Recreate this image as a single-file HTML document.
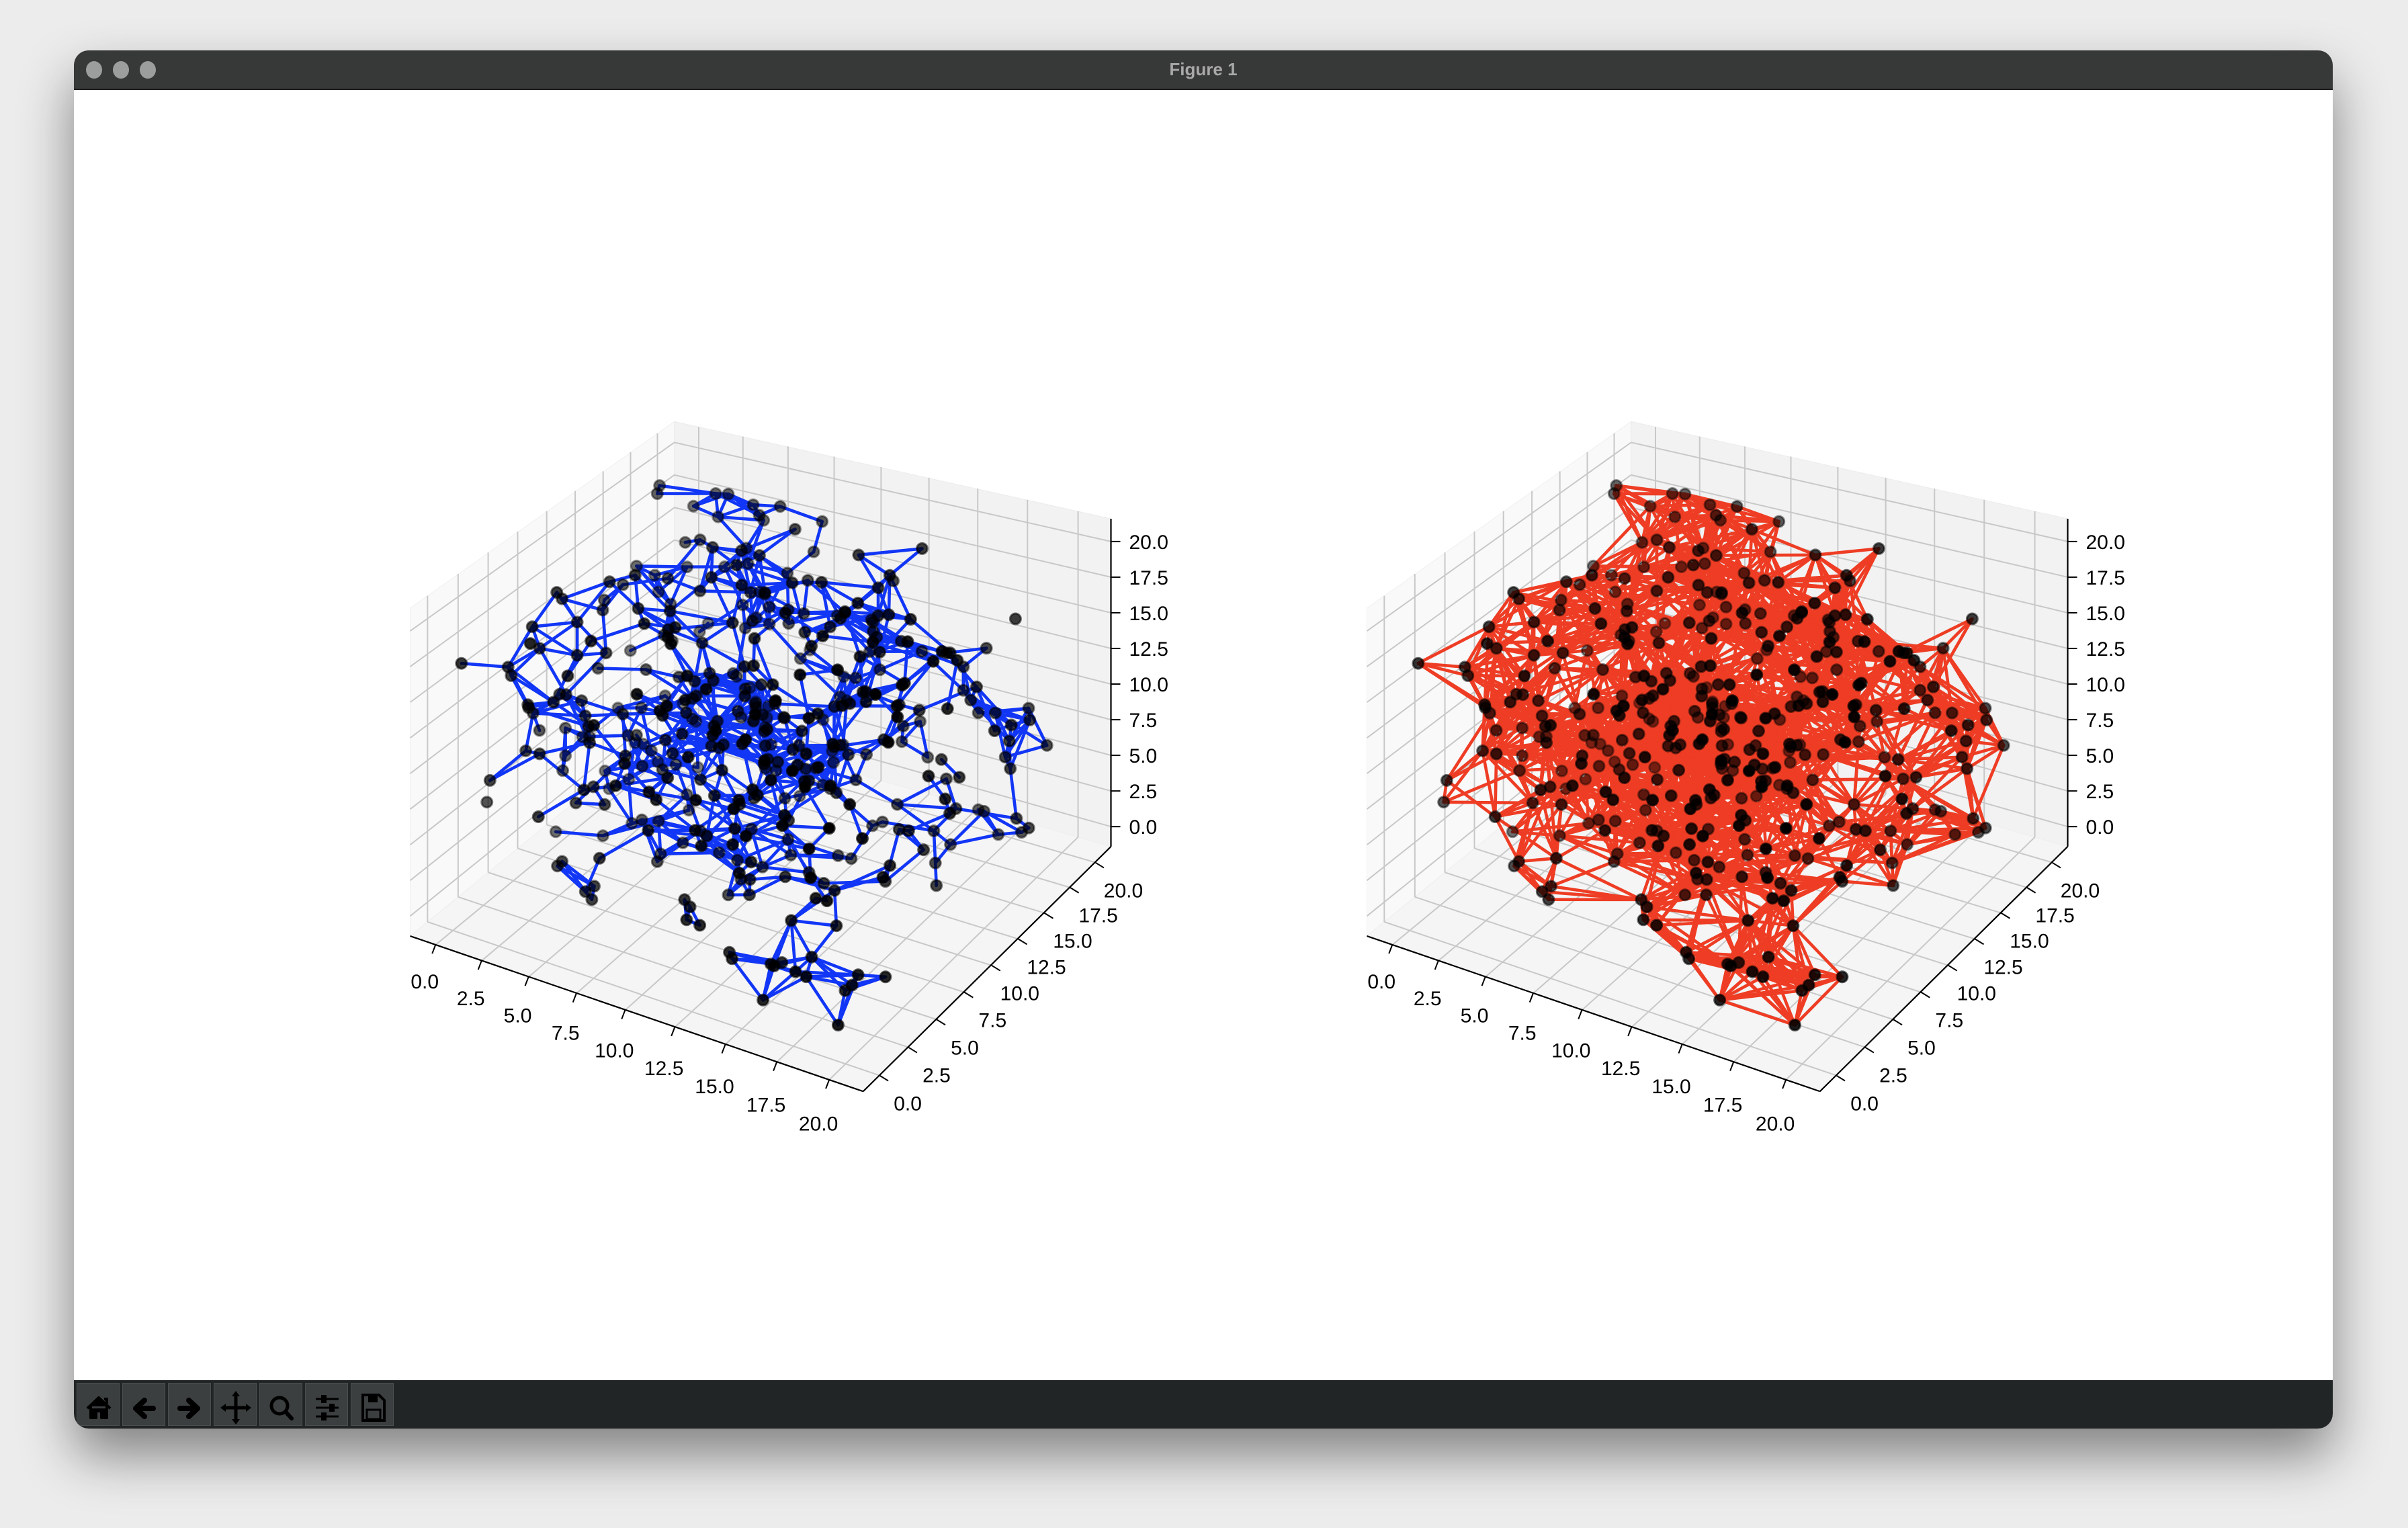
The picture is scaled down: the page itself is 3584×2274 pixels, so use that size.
<!DOCTYPE html>
<html><head><meta charset="utf-8">
<style>
html,body{margin:0;padding:0;width:3584px;height:2274px;overflow:hidden;background:#ececec;font-family:"Liberation Sans",sans-serif}
#win{position:absolute;left:110px;top:75px;width:3362px;height:2051px;border-radius:22px;background:#fff;box-shadow:0 40px 80px rgba(0,0,0,0.45);overflow:hidden}
#titlebar{position:absolute;left:0;top:0;width:100%;height:57px;background:#373838;border-bottom:2px solid #1e1e1e}
.dot{position:absolute;top:16px;width:24px;height:26px;border-radius:50%;background:#9c9e9d}
#title{position:absolute;left:0;width:100%;top:13px;text-align:center;color:#a9a9a9;font-weight:bold;font-size:26px}
#toolbar{position:absolute;left:0;bottom:0;width:100%;height:72px;background:#222526}
.btn{position:absolute;top:4px;width:64px;height:64px;background:#3c3f40;border:1px solid #4c4f50;box-sizing:border-box}
.btn svg{position:absolute;left:5px;top:1px}
#chart{position:absolute;left:0;top:0}
</style></head><body>
<div id="win">
 <div id="titlebar">
  <div class="dot" style="left:18px"></div>
  <div class="dot" style="left:58px"></div>
  <div class="dot" style="left:98px"></div>
  <div id="title">Figure 1</div>
 </div>
 <div id="toolbar">
  <div class="btn" style="left:4px"><svg width="54" height="62"><path d="M10 36 L27 20 L44 36 M15 33 V50 H23 V40 H31 V50 H39 V33 M35 22 H39 V29" fill="#000" stroke="#000" stroke-width="4" stroke-linejoin="round"/></svg></div>
  <div class="btn" style="left:72px"><svg width="54" height="62"><path d="M40 36 H16 M27 24 L14 36 L27 48" fill="none" stroke="#000" stroke-width="8" stroke-linecap="round" stroke-linejoin="round"/></svg></div>
  <div class="btn" style="left:140px"><svg width="54" height="62"><path d="M12 36 H36 M25 24 L38 36 L25 48" fill="none" stroke="#000" stroke-width="8" stroke-linecap="round" stroke-linejoin="round"/></svg></div>
  <div class="btn" style="left:208px"><svg width="54" height="62"><path d="M27 14 V56 M8 35 H46" stroke="#000" stroke-width="5"/><path d="M27 10 L33 18 H21Z M27 60 L33 52 H21Z M4 35 L12 29 V41Z M50 35 L42 29 V41Z" fill="#000"/></svg></div>
  <div class="btn" style="left:276px"><svg width="54" height="62"><circle cx="24" cy="32" r="12" fill="none" stroke="#000" stroke-width="5"/><path d="M33 41 L42 51" stroke="#000" stroke-width="6" stroke-linecap="round"/></svg></div>
  <div class="btn" style="left:344px"><svg width="54" height="62"><path d="M10 22 H44 M10 35 H44 M10 48 H44" stroke="#000" stroke-width="3"/><rect x="18" y="16" width="8" height="12" fill="#000"/><rect x="30" y="29" width="8" height="12" fill="#000"/><rect x="18" y="42" width="8" height="12" fill="#000"/></svg></div>
  <div class="btn" style="left:412px"><svg width="54" height="62"><path d="M12 16 H36 L44 24 V54 H12Z" fill="none" stroke="#000" stroke-width="4"/><rect x="20" y="16" width="14" height="11" fill="#000"/><rect x="18" y="38" width="20" height="14" fill="none" stroke="#000" stroke-width="3"/></svg></div>
 </div>
</div>
<svg id="chart" width="3584" height="2274" xmlns="http://www.w3.org/2000/svg"></svg>
<script>
// ---- data (shared node positions, estimated) ----
const nodeXa = [2,4.5,7,9.5,12,14.5,17,19.5,1,3.5,6,8.5,11,13.5,16,18.5,0.5,3,5.5,8,10.5,13,15.5,18,1.5,4,6.5,9,11.5,14,16.5,19,2.5,5,7.5,10,12.5,15,17.5,0.8,
3.2,5.8,8.3,10.8,13.2,15.8,18.3,1.2,3.7,6.2,8.7,11.2,13.7,16.2,18.7,2.2,4.7,7.2,9.7,12.2,14.7,17.2,19.2,0.3,2.8,5.3,7.8,10.3,12.8,15.3,17.8,1.7,4.2,6.7,9.2,11.7,14.2,16.7,19.7,2.4,
4.9,7.4,9.9,12.4,14.9,17.4,0.6,3.1,5.6,8.1,10.6,13.1,15.6,18.1,1.4,3.9,6.4,8.9,11.4,13.9,16.4,18.9,2.9,5.4,7.9,10.4,12.9,15.4,17.9,0.9,3.4,5.9,8.4,10.9,13.4,15.9,18.4,1.9,
4.4,6.9,9.4,11.9,14.4,16.9,19.4,2.6,5.1,7.6,10.1,12.6,15.1,17.6,1.1,3.6,6.1,8.6,11.1,13.6,16.1,18.6,2.1,4.6,7.1,9.6,12.1,14.6,17.1,19.1,0.4,3.3,5.7,8.2,10.7,13.3,15.7,18.2,
1.6,4.1,6.6,9.1,11.6,14.1,16.6,19.3,2.7,5.2,7.7,10.2,12.7,15.2,17.7,0.7,3.8,6.3,8.8,11.3,13.8,16.3,18.8,2.3,4.8,7.3,9.8,12.3,14.8,17.3,1.3,3.5,6.0,8.5,11.0,13.5,16.0,18.5,
9.1,10.4,8.2,11.7,12.9,7.4,9.8,10.9,13.3,6.6,11.1,8.9,12.2,10.1,9.4,7.9,13.8,11.9,8.6,10.6,12.5,9.2,7.1,14.2,10.3,11.4,8.4,12.8,9.7,10.8,
5.5,15.0,4.3,16.5,6.8,14.0,3.0,17.0,5.0,15.5,8.0,12.0,4.0,16.0,7.0,13.0,2.0,18.0,6.0,14.5,9.0,11.0,10.0,10.5,9.5,8.5,12.5,7.5,13.5,11.5];
const nodeYa = [3,12,18,7,14,2,9,16,10,5,15,1,11,19,4,13,17,8,3,13,6,18,10,2,14,19,8,16,2,12,5,18,11,4,10,17,7,14,1,6,
16,12,5,19,9,17,7,3,13,8,10,4,6,15,11,18,7,1,13,11,3,19,6,9,2,17,14,8,15,12,16,4,9,17,5,18,8,3,14,15,
2,11,9,1,14,10,12,6,4,15,17,3,19,8,7,10,14,18,6,11,1,17,5,19,13,9,3,8,12,16,2,18,11,4,15,5,13,6,19,1,
8,6,12,3,18,16,8,14,2,16,12,10,5,15,8,11,9,17,13,4,9,2,10,19,6,1,14,9,15,6,11,16,5,7,3,19,12,10,
17,2,13,7,11,5,14,12,18,15,4,10,1,13,7,2,7,12,3,16,10,14,4,9,18,6,4,15,13,3,11,15,8,17,14,6,19,10,
9.5,10.2,11.8,8.1,10.7,9.3,12.4,7.6,9.9,10.8,13.1,8.7,11.5,6.9,10.4,9.1,8.3,12.7,9.6,11.2,7.4,10.9,10.1,11.9,8.8,9.7,12.1,9.2,10.6,7.9,
0.5,19.5,1.0,1.5,19.0,0.8,18.5,19.2,10.0,9.0,0.3,19.7,11.0,12.0,13.0,0.6,9.0,8.0,19.8,18.8,1.2,18.2,0.4,19.6,5.0,15.0,1.8,18.0,2.5,17.5];
const nodeZa = [10,4,15,12,7,18,3,10,6,16,9,13,2,11,17,8,12,1,19,15,10,5,14,7,3,11,17,14,9,19,12,1,6,8,13,3,16,11,15,9,
4,17,19,10,2,13,6,15,12,7,17,14,4,2,18,9,11,6,3,16,13,8,17,5,14,11,19,1,6,10,12,18,8,3,15,12,14,2,11,13,
17,7,15,9,4,16,2,12,7,3,14,11,9,16,18,5,10,5,8,19,12,8,13,4,17,6,9,15,1,14,11,4,10,7,18,13,16,12,5,15,
10,2,13,6,9,17,3,8,12,14,16,6,11,5,1,19,9,7,18,10,12,4,15,6,14,17,8,11,2,11,3,13,9,7,4,15,16,12,
13,8,19,10,5,16,7,1,9,4,14,17,11,6,15,3,8,16,12,5,18,2,11,13,7,9,10,4,1,14,10,7,18,13,11,6,12,9,
10.2,9.1,8.7,11.4,12.6,10.8,7.9,9.5,8.2,11.9,10.4,13.2,9.8,10.9,6.8,12.1,9.4,7.3,11.1,10.7,8.9,12.8,9.9,6.5,13.6,7.7,10.3,8.4,11.6,12.3,
8.0,12.0,3.0,7.5,13.5,16.0,4.5,10.5,0.5,19.5,20.0,0.2,19.0,1.0,6.5,9.5,17.5,2.5,7.0,12.5,11.0,8.5,18.5,1.5,4.0,15.5,9.0,13.0,6.0,14.0];
const nodeXb = [0.2,1.8,3.6,5.4,7.2,9.0,10.8,12.6,14.4,16.2,18.0,19.8,0.9,2.7,4.5,6.3,8.1,9.9,11.7,13.5,15.3,17.1,18.9,0.1,1.9,3.7,5.5,7.3,9.1,10.9,12.7,14.5,16.3,18.1,19.9,
1.0,2.8,4.6,6.4,8.2,10.0,11.8,13.6,15.4,17.2,19.0,0.4,2.2,4.0,5.8,7.6,9.4,11.2,13.0,14.8,16.6,18.4,1.3,3.1,4.9,6.7,8.5,10.3,12.1,13.9,15.7,17.5,19.3,0.6,2.4,
4.2,6.0,7.8,9.6,11.4,13.2,15.0,16.8,18.6,0.0,20.0,19.6,0.3,10.2,5.1,15.2,3.3,17.7,8.8,12.3,6.9,14.1,1.5,19.4,7.5,13.7,2.9,16.9,9.7,11.1,
4.8,15.9,0.7,19.1,6.2,13.4,2.3,17.8,8.4,11.6,3.9,16.4,5.7,14.3,1.2,18.7,7.1,12.9,9.3,10.6];
const nodeYb = [15.5,7.2,19.8,3.4,11.6,0.2,17.3,5.9,13.1,9.2,18.6,2.1,8.4,14.9,0.9,18.1,6.7,12.3,1.4,16.8,4.6,10.8,19.3,12.6,2.8,9.5,17.6,0.6,14.2,7.9,19.1,3.8,15.7,11.3,6.1,
19.6,1.1,13.8,7.4,16.1,3.2,9.9,17.9,0.4,14.6,5.3,4.1,18.4,6.8,10.5,1.9,15.2,13.4,8.6,19.9,2.6,12.1,9.8,5.6,16.5,0.1,12.9,18.8,4.3,10.1,16.3,7.7,14.4,19.0,1.6,
11.9,8.9,3.1,19.4,5.0,14.0,11.7,0.7,16.7,10.0,9.0,3.5,19.2,0.0,8.1,18.3,12.8,2.4,6.4,13.7,0.8,19.7,17.2,7.1,10.7,4.9,2.0,14.7,18.9,1.3,
12.2,6.6,4.8,15.4,9.1,11.0,7.3,18.5,2.7,16.2,13.3,0.5,5.4,17.0,8.3,12.4,3.6,9.4,15.8,6.9];
const nodeZb = [1.1,18.6,8.3,14.9,0.4,12.7,19.7,4.2,16.3,9.6,2.8,14.1,19.9,6.2,11.4,3.5,17.2,0.8,15.6,10.3,19.3,5.1,8.7,16.8,13.2,2.1,0.6,18.1,4.7,19.5,7.6,12.2,3.9,15.1,17.4,
11.8,3.3,16.6,0.2,19.1,6.9,14.7,1.8,13.3,9.1,19.8,6.4,10.6,18.3,2.4,13.9,0.9,17.6,19.4,8.2,15.9,4.4,1.6,19.0,0.3,12.4,16.1,3.7,14.3,18.8,6.7,0.5,11.1,15.3,9.8,
19.6,1.4,17.8,5.6,18.9,0.7,13.6,16.9,2.6,8.0,7.0,18.0,2.2,11.5,19.2,0.1,4.9,15.8,1.9,17.1,9.2,6.1,13.0,10.9,0.0,20.0,16.4,3.1,10.4,19.9,
0.6,18.7,10.1,1.2,16.2,4.1,13.5,9.3,2.9,0.3,19.3,12.6,15.4,6.8,2.0,17.3,19.8,1.0,14.5,5.8];
// extra boundary nodes (upper-back and lower-front regions)
const nodeXc = [0.0,1.5,3.2,4.8,6.5,2.4,5.6,0.8,7.4,3.9,1.2,8.6,5.1,2.8,6.9,10.2,9.1,4.4,0.5,7.8,
12.4,14.2,15.8,17.5,19.2,13.1,16.4,18.6,11.3,14.9,17.1,19.6,12.8,15.5,10.6,18.1,13.7,16.9,11.9,19.0];
const nodeYc = [19.0,19.6,18.2,19.4,17.8,16.4,19.8,15.2,19.1,15.9,17.6,18.5,13.9,12.8,16.2,19.3,17.1,19.9,18.3,14.6,
0.4,1.1,0.8,2.2,0.3,3.1,1.9,3.6,0.9,4.2,0.2,1.6,2.6,3.4,1.4,4.8,0.6,2.9,3.8,0.7];
const nodeZc = [19.0,17.2,19.6,16.8,18.9,19.8,15.6,18.1,17.4,20.0,15.3,19.2,19.1,18.6,16.3,18.4,19.9,17.9,16.1,19.4,
0.6,2.4,0.2,1.3,3.2,0.9,3.8,0.4,2.7,1.1,4.4,2.0,3.5,0.1,1.7,2.9,4.1,1.9,0.5,3.6];
const nodeX = nodeXa.concat(nodeXb, nodeXc);
const nodeY = nodeYa.concat(nodeYb, nodeYc);
const nodeZ = nodeZa.concat(nodeZb, nodeZc);
// axis tick values
const tickVals = [0, 2.5, 5, 7.5, 10, 12.5, 15, 17.5, 20];
const tickLabels = ["0.0","2.5","5.0","7.5","10.0","12.5","15.0","17.5","20.0"];
const radiusLeft = 3.0;
const radiusRight = 4.6;

const svg = document.getElementById('chart');
const NS = 'http://www.w3.org/2000/svg';
const LO = -1.4, HI = 21.6;
function frac(v){ return (v - LO) / (HI - LO); }
const EX=[662,206], EY=[381,-352], EZ=[0,-535], SC=[1129,1116], PA=0.087, VS=0.912, VB=64.7;
function proj(x,y,z,dx){
  const fx=frac(x), fy=frac(y), fz=frac(z);
  const ox=(fx-.5)*EX[0]+(fy-.5)*EY[0]+(fz-.5)*EZ[0];
  const oy=(fx-.5)*EX[1]+(fy-.5)*EY[1]+(fz-.5)*EZ[1];
  const s=1+PA*(fx-fy);
  return [SC[0]+dx+s*ox+3, (SC[1]+s*oy)*VS+VB];
}
function mk(tag, attrs, parent){
  const e=document.createElementNS(NS,tag);
  for(const k in attrs) e.setAttribute(k, attrs[k]);
  (parent||svg).appendChild(e); return e;
}
function poly(pts){ return pts.map(p=>p[0].toFixed(1)+','+p[1].toFixed(1)).join(' '); }

function drawAxes(dx, name, color, radius){
  const g=mk('g',{});
  
  
  const P=(x,y,z)=>proj(x,y,z,dx);
  const pl=mk('polygon',{points:poly([P(LO,LO,LO),P(LO,HI,LO),P(LO,HI,HI),P(LO,LO,HI)]),fill:'#f9f9f9',stroke:'#f0f0f0'},g);
  
  
  const pr=mk('polygon',{points:poly([P(LO,HI,LO),P(HI,HI,LO),P(HI,HI,HI),P(LO,HI,HI)]),fill:'#f2f2f2',stroke:'#ececec'},g);
  
  
  const pf=mk('polygon',{points:poly([P(LO,LO,LO),P(HI,LO,LO),P(HI,HI,LO),P(LO,HI,LO)]),fill:'#f5f5f5',stroke:'#eeeeee'},g);
  
  
  const gs={stroke:'#c8c8c8','stroke-width':2};
  tickVals.forEach(v=>{
    let a,b;
    a=P(v,LO,LO);b=P(v,HI,LO); const g1=mk('line',Object.assign({x1:a[0],y1:a[1],x2:b[0],y2:b[1]},gs),g);
     
    a=P(v,HI,LO);b=P(v,HI,HI); const g2=mk('line',Object.assign({x1:a[0],y1:a[1],x2:b[0],y2:b[1]},gs),g);
     
    a=P(LO,v,LO);b=P(HI,v,LO); const g3=mk('line',Object.assign({x1:a[0],y1:a[1],x2:b[0],y2:b[1]},gs),g);
     
    a=P(LO,v,LO);b=P(LO,v,HI); const g4=mk('line',Object.assign({x1:a[0],y1:a[1],x2:b[0],y2:b[1]},gs),g);
     
    a=P(LO,LO,v);b=P(LO,HI,v); const g5=mk('line',Object.assign({x1:a[0],y1:a[1],x2:b[0],y2:b[1]},gs),g);
     
    a=P(LO,HI,v);b=P(HI,HI,v); const g6=mk('line',Object.assign({x1:a[0],y1:a[1],x2:b[0],y2:b[1]},gs),g);
     
  });
  const as={stroke:'#000','stroke-width':2.2};
  let a=P(LO,LO,LO), b=P(HI,LO,LO);
  const xl=mk('line',Object.assign({x1:a[0],y1:a[1],x2:b[0],y2:b[1]},as),g);
   
  a=P(HI,LO,LO); b=P(HI,HI,LO);
  const yl=mk('line',Object.assign({x1:a[0],y1:a[1],x2:b[0],y2:b[1]},as),g);
   
  a=P(HI,HI,LO); b=P(HI,HI,HI);
  const zl=mk('line',Object.assign({x1:a[0],y1:a[1],x2:b[0],y2:b[1]},as),g);
   
  const ts={'font-family':'Liberation Sans, sans-serif','font-size':30,fill:'#000'};
  tickVals.forEach((v,i)=>{
    let p=P(v,LO,LO);
    const t1=mk('line',{x1:p[0],y1:p[1],x2:p[0]-5,y2:p[1]+13,stroke:'#000','stroke-width':2},g);
     
    const l1=mk('text',Object.assign({x:p[0]-16,y:p[1]+64+12*frac(v),'text-anchor':'middle'},ts),g);
    l1.textContent=tickLabels[i];
     
    p=P(HI,v,LO);
    const t2=mk('line',{x1:p[0],y1:p[1],x2:p[0]+13,y2:p[1]+8,stroke:'#000','stroke-width':2},g);
     
    const l2=mk('text',Object.assign({x:p[0]+42,y:p[1]+52,'text-anchor':'middle'},ts),g);
    l2.textContent=tickLabels[i];
     
    p=P(HI,HI,v);
    const t3=mk('line',{x1:p[0],y1:p[1],x2:p[0]+14,y2:p[1],stroke:'#000','stroke-width':2},g);
     
    const l3=mk('text',Object.assign({x:p[0]+27,y:p[1]+11,'text-anchor':'start'},ts),g);
    l3.textContent=tickLabels[i];
     
  });
  const n=nodeX.length;
  const eg=mk('g',{stroke:color,'stroke-width':4.6,'stroke-linecap':'round'},g);
  
  
  for(let i=0;i<n;i++) for(let j=i+1;j<n;j++){
    const d=Math.hypot(nodeX[i]-nodeX[j],nodeY[i]-nodeY[j],nodeZ[i]-nodeZ[j]);
    if(d<radius){
      const p=P(nodeX[i],nodeY[i],nodeZ[i]), q=P(nodeX[j],nodeY[j],nodeZ[j]);
      const e=mk('line',{x1:p[0].toFixed(1),y1:p[1].toFixed(1),x2:q[0].toFixed(1),y2:q[1].toFixed(1)},eg);
      
      
    }
  }
  const idx=[...Array(n).keys()];
  const depth=i=>(nodeX[i]-nodeY[i])*0.5+nodeZ[i]*0.3;
  idx.sort((a,b)=>depth(a)-depth(b));
  const dmin=depth(idx[0]), dmax=depth(idx[n-1]);
  const ng=mk('g',{},g);
  
  
  idx.forEach(i=>{
    const p=P(nodeX[i],nodeY[i],nodeZ[i]);
    const al=0.45+0.55*(depth(i)-dmin)/(dmax-dmin);
    const c=mk('circle',{cx:p[0].toFixed(1),cy:p[1].toFixed(1),r:8,fill:'#000','fill-opacity':al.toFixed(2),stroke:'#000','stroke-opacity':(al*0.7).toFixed(2),'stroke-width':3},ng);
    
    
  });
}
drawAxes(0,'left-3d-network-axes','#1236f6',radiusLeft);
drawAxes(1424,'right-3d-network-axes','#ee3d24',radiusRight);
</script>
</body></html>
